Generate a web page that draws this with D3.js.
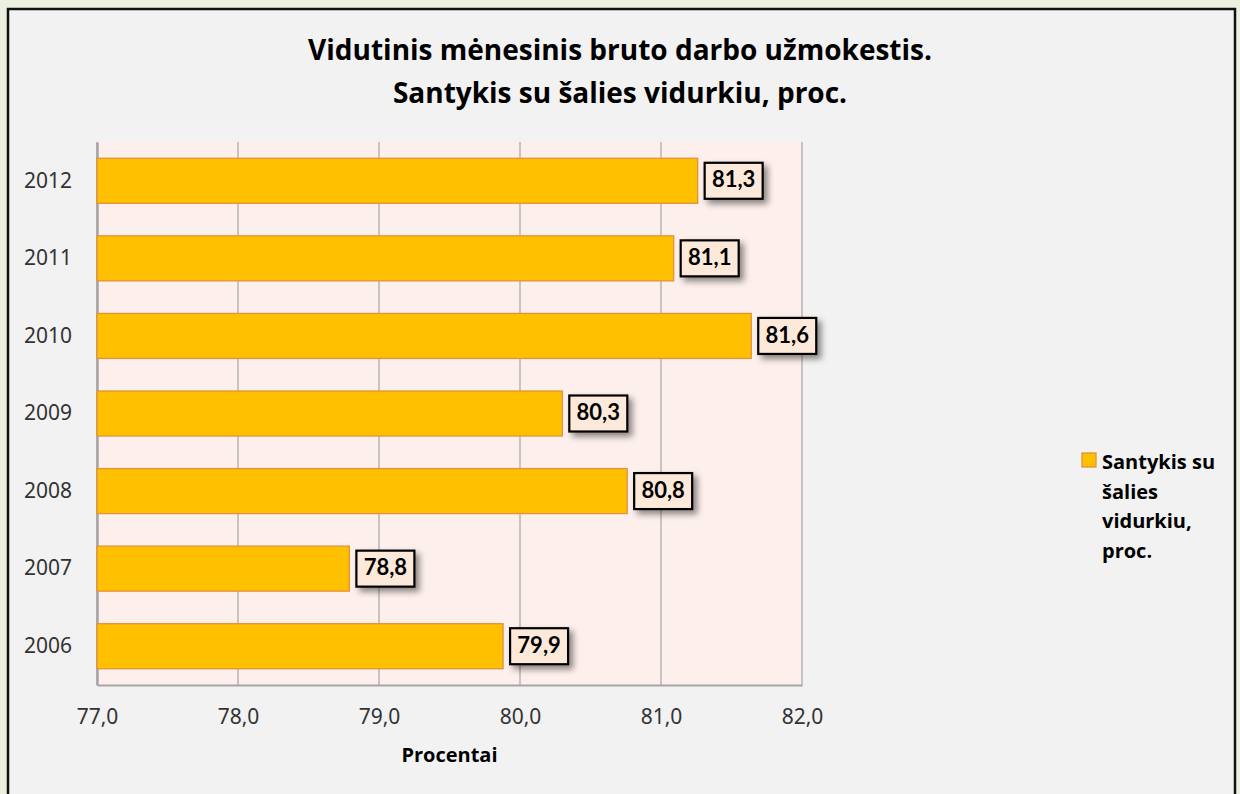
<!DOCTYPE html>
<html>
<head>
<meta charset="utf-8">
<script src="https://cdn.jsdelivr.net/npm/d3@7"></script>
<style>
  body { margin: 0; background: #ebf1de; }
  svg { display: block; }
</style>
</head>
<body>
<div id="chart"></div>
<script>
const years = ["2012", "2011", "2010", "2009", "2008", "2007", "2006"];
const values = [81.26, 81.09, 81.64, 80.30, 80.76, 78.79, 79.88];
const xTicks = [77, 78, 79, 80, 81, 82];
const titleLines = ["Vidutinis mėnesinis bruto darbo užmokestis.", "Santykis su šalies vidurkiu, proc."];
const legendLines = ["Santykis su", "šalies", "vidurkiu,", "proc."];
const xTitle = "Procentai";

const width = 1240,
  height = 794,
  margin = ({ top: 142, right: 438, bottom: 109, left: 97 });

const locale = d3.formatLocale({ decimal: ",", thousands: " ", grouping: [3], currency: ["", ""] });
const fmt = locale.format(".1f");

const svg = d3.select("#chart")
  .append("svg")
  .attr("width", width)
  .attr("height", height)
  .attr("viewBox", [0, 0, width, height]);

const defs = svg.append("defs");
const shadow = defs.append("filter").attr("id", "shadow")
  .attr("x", "-30%").attr("y", "-30%").attr("width", "170%").attr("height", "170%");
shadow.append("feDropShadow")
  .attr("dx", 4).attr("dy", 4).attr("stdDeviation", 3)
  .attr("flood-color", "#000").attr("flood-opacity", 0.45);

// frame
svg.append("rect")
  .attr("x", 8).attr("y", 9)
  .attr("width", 1227).attr("height", 800)
  .attr("fill", "#f2f2f2")
  .attr("stroke", "#111").attr("stroke-width", 2.5);

const x = d3.scaleLinear()
  .domain([77, 82])
  .range([margin.left, width - margin.right]);

const y = d3.scaleBand()
  .domain(years)
  .range([margin.top, height - margin.bottom])
  .paddingInner(0.42)
  .paddingOuter(0.21);

// plot area
svg.append("rect")
  .attr("x", x(77)).attr("y", margin.top)
  .attr("width", x(82) - x(77)).attr("height", height - margin.bottom - margin.top)
  .attr("fill", "#fdefeb");

// gridlines
svg.append("g")
  .selectAll("line")
  .data(xTicks)
  .join("line")
  .attr("x1", d => x(d)).attr("x2", d => x(d))
  .attr("y1", margin.top).attr("y2", height - margin.bottom)
  .attr("stroke", "#a6a6a6").attr("stroke-width", 1.2);

// bottom axis
const xAxis = svg.append("g")
  .attr("transform", `translate(0,${height - margin.bottom})`)
  .call(d3.axisBottom(x).tickValues(xTicks).tickFormat(fmt).tickSize(0).tickPadding(24));
xAxis.select(".domain").attr("stroke", "#a6a6a6").attr("stroke-width", 2);
xAxis.selectAll("text")
  .attr("font-family", "'Noto Sans', sans-serif")
  .attr("font-size", 21)
  .attr("fill", "#333");

// left axis
const yAxis = svg.append("g")
  .attr("transform", `translate(${margin.left},0)`)
  .call(d3.axisLeft(y).tickSize(0).tickPadding(25));
yAxis.select(".domain").attr("stroke", "#a6a6a6").attr("stroke-width", 2.5);
yAxis.selectAll("text")
  .attr("font-family", "'Noto Sans', sans-serif")
  .attr("font-size", 21)
  .attr("fill", "#333");

// bars
svg.append("g")
  .selectAll("rect")
  .data(years)
  .join("rect")
  .attr("x", x(77))
  .attr("y", d => y(d))
  .attr("width", (d, i) => x(values[i]) - x(77))
  .attr("height", y.bandwidth())
  .attr("fill", "#ffc000")
  .attr("stroke", "#e3913a")
  .attr("stroke-width", 1.3);

// value labels
const labels = svg.append("g")
  .selectAll("g")
  .data(years)
  .join("g")
  .attr("transform", (d, i) => `translate(${x(values[i]) + 7},${y(d) + y.bandwidth() / 2})`);

labels.append("rect")
  .attr("x", 0).attr("y", -18)
  .attr("width", 58).attr("height", 36)
  .attr("fill", "#fde9d9")
  .attr("stroke", "#000").attr("stroke-width", 2.2)
  .attr("filter", "url(#shadow)");

labels.append("text")
  .attr("x", 29).attr("y", 1)
  .attr("text-anchor", "middle")
  .attr("dominant-baseline", "middle")
  .attr("font-family", "Lato, sans-serif")
  .attr("font-weight", "bold")
  .attr("font-size", 22)
  .attr("fill", "#000")
  .text((d, i) => fmt(values[i]));

// title
svg.append("g")
  .selectAll("text")
  .data(titleLines)
  .join("text")
  .attr("x", 620)
  .attr("y", (d, i) => 60 + i * 43)
  .attr("text-anchor", "middle")
  .attr("font-family", "'Open Sans', sans-serif")
  .attr("font-weight", "bold")
  .attr("font-size", 28)
  .attr("fill", "#000")
  .text(d => d);

// x axis title
svg.append("text")
  .attr("x", (x(77) + x(82)) / 2)
  .attr("y", 762)
  .attr("text-anchor", "middle")
  .attr("font-family", "'Open Sans', sans-serif")
  .attr("font-weight", "bold")
  .attr("font-size", 20)
  .attr("fill", "#000")
  .text(xTitle);

// legend
const legend = svg.append("g").attr("transform", "translate(1082,453)");
legend.append("rect")
  .attr("width", 14).attr("height", 14)
  .attr("fill", "#ffc000")
  .attr("stroke", "#e3913a")
  .attr("stroke-width", 1.3);
legend.append("g")
  .selectAll("text")
  .data(legendLines)
  .join("text")
  .attr("x", 20)
  .attr("y", (d, i) => 16 + i * 29.5)
  .attr("font-family", "'Open Sans', sans-serif")
  .attr("font-weight", "bold")
  .attr("font-size", 20)
  .attr("fill", "#000")
  .text(d => d);
</script>
</body>
</html>
